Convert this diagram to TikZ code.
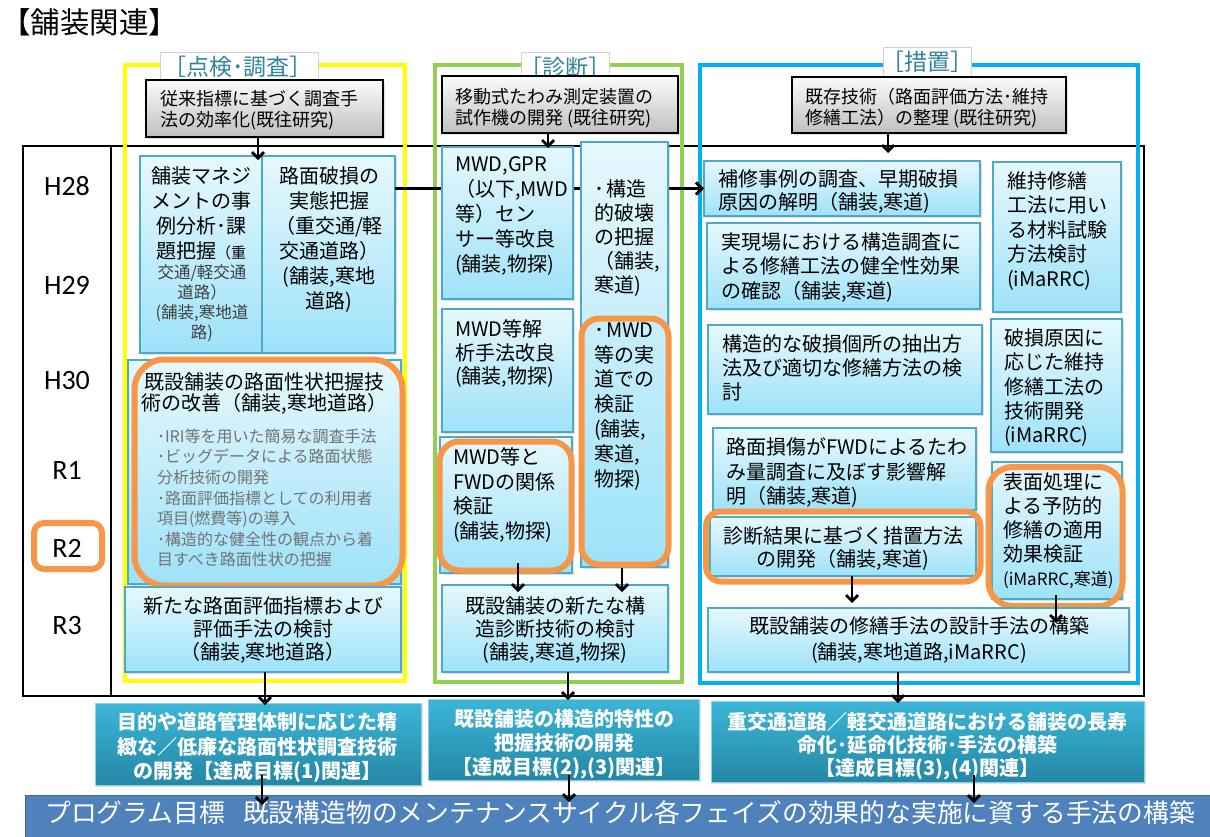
\documentclass[tikz,border=0pt]{standalone}
\usepackage{fontspec}
\setmainfont{Noto Sans CJK JP}
\newfontfamily\latf{Carlito}
\usetikzlibrary{fit,shadows,arrows.meta}
\definecolor{lbT}{RGB}{230,248,253}
\definecolor{lbB}{RGB}{158,226,249}
\definecolor{lbE}{RGB}{75,170,198}
\definecolor{orng}{RGB}{247,150,70}
\definecolor{gbT}{RGB}{60,182,216}
\definecolor{gbB}{RGB}{36,135,165}
\definecolor{progc}{RGB}{79,129,189}
\definecolor{labc}{RGB}{49,133,156}
\definecolor{yel}{RGB}{255,255,0}
\definecolor{grn}{RGB}{146,208,80}
\definecolor{blu}{RGB}{0,176,240}
\begin{document}
\begin{tikzpicture}[x=1pt,y=-1pt,
  shd/.style={drop shadow={shadow xshift=1.5pt,shadow yshift=-1.5pt,opacity=0.25}},
  lb/.style={draw=lbE, line width=1.2pt, top color=lbT, bottom color=lbB, inner sep=0pt, outer sep=0pt, shd},
  gr/.style={draw=black, line width=1.5pt, top color=gray!3, bottom color=gray!50, inner sep=0pt, outer sep=0pt, shd},
  gl/.style={draw=gbT!60!white, line width=1pt, top color=gbT, bottom color=gbB, inner sep=0pt, outer sep=0pt, shd},
  orb/.style={draw=orng, line width=6pt, rounded corners=#1, inner sep=0pt, outer sep=0pt}, orb/.default=18pt,
  frm/.style={line width=4pt},
  lab/.style={fill=white, draw=gray!35, line width=0.8pt, inner sep=0pt, outer sep=0pt},
  arr/.style={line width=2.8pt, -{Straight Barb[length=6pt,width=12pt]}},
  t/.style={inner sep=0pt, outer sep=0pt, align=left, anchor=north west, font=\fontsize{20}{#1}\selectfont, execute at begin node={\rule{0pt}{0.9em}}}, t/.default=24.5,
  tc/.style={t=#1, align=center, anchor=north}, tc/.default=24.5,
  tw/.style={tc=#1, text=white, font=\fontsize{20}{#1}\selectfont\bfseries}, tw/.default=24.5,
  yr/.style={anchor=base, inner sep=0pt, font=\latf\fontsize{28}{30}\selectfont},
  labt/.style={anchor=base, inner sep=0pt, text=labc, font=\fontsize{23}{26}\selectfont}
]
\useasboundingbox (0,0) rectangle (1210,836);
\fill[white] (0,0) rectangle (1210,836);

% title
\node[anchor=base west, inner sep=0pt, font=\fontsize{29.5}{32}\selectfont] (title) at (1,33) {【舗装関連】};

% table frame
\draw[black, line width=1.5pt] (23,146) rectangle (1144,696);
\draw[black, line width=1.5pt] (111,146) -- (111,696);

% phase frames
\draw[yel, frm] (125,65) rectangle (405,681);
\draw[grn, frm] (435,65) rectangle (682,682);
\draw[blu, frm] (699.5,64.5) rectangle (1138,682.5);

% phase labels
\node[lab, fit={(160,52)(318,82)}] (lab1) {};
\node[labt] (lab1t) at (238,75.7) {［点検･調査］};
\node[lab, fit={(521,52)(609,80)}] (lab2) {};
\node[labt] (lab2t) at (565,76.7) {［診断］};
\node[lab, fit={(883,47)(971,78)}] (lab3) {};
\node[labt] (lab3t) at (927,70.7) {［措置］};

% years
\node[yr] (y28) at (67,195) {H28};
\node[yr] (y29) at (67,294) {H29};
\node[yr] (y30) at (67,389) {H30};
\node[yr] (r1) at (67,479) {R1};
\node[yr] (r2) at (67,557) {R2};
\node[yr] (r3) at (67,634) {R3};
\node[orb=10pt, fit={(34,523)(102,569)}] (r2box) {};

% previous research boxes
\node[gr, fit={(146,80)(383,137)}] (g1) {};
\node[t=21, font=\fontsize{18}{21}\selectfont] (g1t) at (160,90.6) {従来指標に基づく調査手\\法の効率化(既往研究)};
\node[gr, fit={(442,76)(678,133)}] (g2) {};
\node[t=21, font=\fontsize{18}{21}\selectfont] (g2t) at (455,88.6) {移動式たわみ測定装置の\\試作機の開発 (既往研究)};
\node[gr, fit={(792,77)(1066,133)}] (g3) {};
\node[t=21, font=\fontsize{18}{21}\selectfont] (g3t) at (805,87.6) {既存技術（路面評価方法･維持\\修繕工法）の整理 (既往研究)};

% column 1
\node[lb, fit={(140,156)(262,353)}] (A) {};
\node[tc=25] (At) at (201,166.6) {舗装マネジ\\メントの事\\例分析･課\\題把握{\fontsize{15}{25}\selectfont （重}};
\node[tc=20, font=\fontsize{16.5}{20}\selectfont, text=black!75] (At2) at (202,264.4) {交通/軽交通\\道路）\\(舗装,寒地道\\路)};
\node[lb, fit={(262,156)(395,353)}] (B) {};
\node[tc=25] (Bt) at (329,166.6) {路面破損の\\実態把握\\（重交通/軽\\交通道路）\\(舗装,寒地\\道路)};

% horizontal arrow (behind column 2 boxes)
\node[lb, fit={(704,161)(980,216)}] (L) {};
\draw[arr, line width=3pt] (B.east |- L.west) -- (L.west);

\node[lb, fit={(128,360)(401,584)}] (C) {};
\node[orb=30pt, fit={(134.5,359.5)(402.5,585.5)}] (Co) {};
\node[tc=21] (Ct) at (264.5,372.6) {既設舗装の路面性状把握技\\術の改善（舗装,寒地道路）};
\node[t=20.6, font=\fontsize{16}{20.6}\selectfont, text=black!55] (Ct2) at (157,428.7) {･IRI等を用いた簡易な調査手法\\･ビッグデータによる路面状態\\分析技術の開発\\･路面評価指標としての利用者\\項目(燃費等)の導入\\･構造的な健全性の観点から着\\目すべき路面性状の把握};
\node[lb, fit={(125,587)(401,672)}] (D) {};
\node[tc=23] (Dt) at (263,596.6) {新たな路面評価指標および\\評価手法の検討\\（舗装,寒地道路）};

% column 2
\node[lb, fit={(442,147)(573,299)}] (E) {};
\node[t=25] (Et) at (455,156.6) {MWD,GPR\\（以下,MWD\\等）セン\\サー等改良\\(舗装,物探)};
\node[lb, fit={(581,142)(668,567)}] (F) {};
\node[t=24] (Ft) at (594,179.6) {･\kern2pt 構造\\的破壊\\の把握\\（舗装,\\寒道)};
\node[orb=18pt, fit={(581.5,318.5)(668.5,564.5)}] (G) {};
\node[t=24.8] (Gt) at (594,322.6) {･\kern2pt MWD\\等の実\\道での\\検証\\(舗装,\\寒道,\\物探)};
\node[lb, fit={(442,309)(573,432)}] (H) {};
\node[t=23.5] (Ht) at (455,319.6) {MWD等解\\析手法改良\\(舗装,物探)};
\node[lb, fit={(440,437)(572,573)}] (I) {};
\node[orb=20pt, fit={(439.5,441.5)(571.5,570.5)}] (J) {};
\node[t=24.7] (Jt) at (453,447.6) {MWD等と\\FWDの関係\\検証\\(舗装,物探)};
\node[lb, fit={(442,585)(668,672)}] (K) {};
\node[tc=23] (Kt) at (555,596.6) {既設舗装の新たな構\\造診断技術の検討\\(舗装,寒道,物探)};

% column 3
\node[t=23.5] (Lt) at (718,169.6) {補修事例の調査、早期破損\\原因の解明（舗装,寒道)};
\node[lb, fit={(707,223)(980,309)}] (M) {};
\node[t=24.5] (Mt) at (721,232.6) {実現場における構造調査に\\よる修繕工法の健全性効果\\の確認（舗装,寒道)};
\node[lb, fit={(993,162)(1121,312)}] (N) {};
\node[t=24.5] (Nt) at (1007,171.6) {維持修繕\\工法に用い\\る材料試験\\方法検討\\(iMaRRC)};
\node[lb, fit={(708,325)(982,414)}] (O) {};
\node[t=24] (Ot) at (722,334.6) {構造的な破損個所の抽出方\\法及び適切な修繕方法の検\\討};
\node[lb, fit={(991,319)(1122,452)}] (P) {};
\node[t=24.3] (Pt) at (1004,328.6) {破損原因に\\応じた維持\\修繕工法の\\技術開発\\(iMaRRC)};
\node[lb, fit={(713,428)(976,510)}] (Q) {};
\node[t=24.5] (Qt) at (726,437.6) {路面損傷がFWDによるたわ\\み量調査に及ぼす影響解\\明（舗装,寒道)};
\node[lb, fit={(710,517)(976,576)}] (R) {};
\node[orb=15pt, fit={(706,511.5)(980.5,581.5)}] (Ro) {};
\node[tc=23] (Rt) at (843,526.6) {診断結果に基づく措置方法\\の開発（舗装,寒道)};
\node[lb, fit={(992,462)(1122,599)}] (S) {};
\node[orb=24pt, fit={(988.5,467)(1122.5,606)}] (So) {};
\node[t=24] (St) at (1003,472.6) {表面処理に\\よる予防的\\修繕の適用\\効果検証\\{\fontsize{17}{24}\selectfont (iMaRRC,寒道)}};
\node[lb, fit={(708,608)(1129,672)}] (T) {};
\node[tc=26] (Tt) at (919,616.6) {既設舗装の修繕手法の設計手法の構築\\(舗装,寒地道路,iMaRRC)};

% goal boxes
\node[gl, fit={(95,703)(421,785)}] (U1) {};
\node[tw=24.5] (U1t) at (257.5,712.6) {目的や道路管理体制に応じた精\\緻な／低廉な路面性状調査技術\\の開発【達成目標(1)関連】};
\node[gl, fit={(428,699)(699,780)}] (U2) {};
\node[tw=24] (U2t) at (564,709.6) {既設舗装の構造的特性の\\把握技術の開発\\【達成目標(2),(3)関連】};
\node[gl, fit={(711,701)(1144,782)}] (U3) {};
\node[tw=23] (U3t) at (927.5,712.6) {重交通道路／軽交通道路における舗装の長寿\\命化･延命化技術･手法の構築\\【達成目標(3),(4)関連】};

% program goal
\node[fill=progc, draw=progc!80!black, line width=1pt, inner sep=0pt, outer sep=0pt, fit={(25,795)(1216,842)}] (prog) {};
\node[anchor=base west, inner sep=0pt, text=white, font=\fontsize{25.8}{28}\selectfont] (progt) at (45,822.8) {プログラム目標\kern18pt 既設構造物のメンテナンスサイクル各フェイズの効果的な実施に資する手法の構築};

% arrows
\draw[arr, shorten >=-4pt] (258,0 |- g1.south) -- (258,0 |- A.north);
\draw[arr, shorten >=-1pt] (548,0 |- g2.south) -- (548,0 |- E.north);
\draw[arr, shorten >=8pt] (888,0 |- g3.south) -- (888,0 |- L.north);
\draw[arr, shorten <=-7.5pt, shorten >=-7pt] (518,0 |- J.south) -- (518,0 |- K.north);
\draw[arr, shorten <=3.5pt, shorten >=-7pt] (622,0 |- G.south) -- (622,0 |- K.north);
\draw[arr, shorten >=-2pt] (265,0 |- D.south) -- (265,0 |- U1.north);
\draw[arr, shorten >=-1pt] (568,0 |- K.south) -- (568,0 |- U2.north);
\draw[arr, shorten >=-2pt] (898,0 |- T.south) -- (898,0 |- U3.north);
\draw[arr, shorten >=5pt] (852,0 |- R.south) -- (852,0 |- T.north);
\draw[arr, shorten <=-4pt, shorten >=-15pt] (1056,0 |- S.south) -- (1056,0 |- T.north);
\draw[arr, shorten <=-10pt, shorten >=-10pt] (262,0 |- U1.south) -- (262,0 |- prog.north);
\draw[arr, shorten <=-5pt, shorten >=-7pt] (569,0 |- U2.south) -- (569,0 |- prog.north);
\draw[arr, shorten <=-7pt, shorten >=-8pt] (974,0 |- U3.south) -- (974,0 |- prog.north);
\end{tikzpicture}
\end{document}
